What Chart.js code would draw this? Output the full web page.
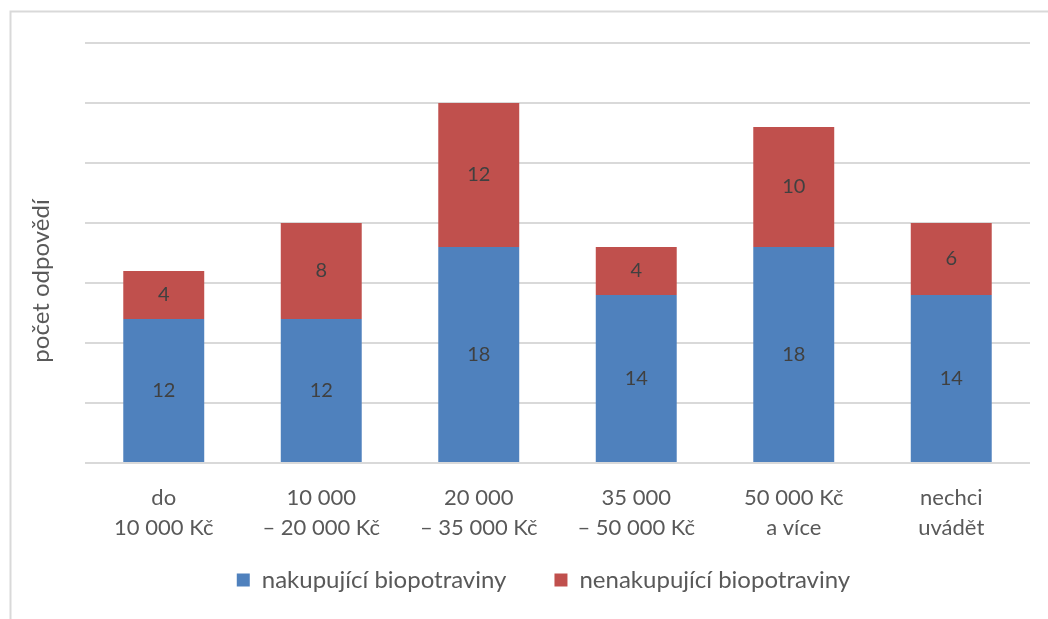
<!DOCTYPE html>
<html>
<head>
<meta charset="utf-8">
<script src="https://cdn.jsdelivr.net/npm/chart.js@4.4.1/dist/chart.umd.min.js"></script>
<style>
  html, body { margin: 0; padding: 0; background: #ffffff; }
  #wrap { position: relative; width: 1048px; height: 619px; }
</style>
</head>
<body>
<div id="wrap"><canvas id="c" width="1048" height="619"></canvas></div>
<script>
const categories = [
  ["do", "10 000 Kč"],
  ["10 000", "– 20 000 Kč"],
  ["20 000", "– 35 000 Kč"],
  ["35 000", "– 50 000 Kč"],
  ["50 000 Kč", "a více"],
  ["nechci", "uvádět"]
];
const buyers = [12, 12, 18, 14, 18, 14];
const nonBuyers = [4, 8, 12, 4, 10, 6];
const seriesNames = ["nakupující biopotraviny", "nenakupující biopotraviny"];
const yTitle = "počet odpovědí";

const FONT = "Lato, 'Open Sans', sans-serif";

const framePlugin = {
  id: 'frame',
  beforeDraw(chart) {
    const ctx = chart.ctx;
    ctx.save();
    ctx.fillStyle = '#ffffff';
    ctx.fillRect(0, 0, chart.width, chart.height);
    ctx.strokeStyle = '#d9d9d9';
    ctx.lineWidth = 2;
    ctx.strokeRect(10.5, 11.5, 1200, 1000);
    ctx.restore();
  }
};

const yTitlePlugin = {
  id: 'ytitle',
  afterDraw(chart) {
    const ctx = chart.ctx;
    ctx.save();
    ctx.translate(41, 281);
    ctx.rotate(-Math.PI / 2);
    ctx.font = "24px " + FONT;
    ctx.fillStyle = '#595959';
    ctx.textAlign = 'center';
    ctx.textBaseline = 'middle';
    ctx.fillText(yTitle, 0, 0);
    ctx.restore();
  }
};

const valueLabels = {
  id: 'valueLabels',
  afterDatasetsDraw(chart) {
    const ctx = chart.ctx;
    ctx.save();
    ctx.font = "20px " + FONT;
    ctx.fillStyle = '#404040';
    ctx.textAlign = 'center';
    ctx.textBaseline = 'middle';
    chart.data.datasets.forEach((ds, i) => {
      const meta = chart.getDatasetMeta(i);
      meta.data.forEach((el, j) => {
        const p = el.getCenterPoint();
        ctx.fillText(String(ds.data[j]), p.x, p.y);
      });
    });
    ctx.restore();
  }
};

const legendPatch = {
  id: 'legendPatch',
  afterInit(chart) {
    const lg = chart.legend;
    if (!lg) return;
    const origFit = lg.fit;
    lg.fit = function () { origFit.call(this); this.height = 66; };
    const origDraw = lg.draw;
    lg.draw = function (a) {
      const t = this.top, l = this.left;
      this.top = t - 33;
      this.left = l - 28;
      origDraw.call(this, a);
      this.top = t;
      this.left = l;
    };
  }
};

new Chart(document.getElementById('c'), {
  type: 'bar',
  data: {
    labels: categories,
    datasets: [
      { label: seriesNames[0], data: buyers, backgroundColor: '#4f81bd', barPercentage: 0.514, categoryPercentage: 1 },
      { label: seriesNames[1], data: nonBuyers, backgroundColor: '#c0504d', barPercentage: 0.514, categoryPercentage: 1 }
    ]
  },
  options: {
    responsive: false,
    animation: false,
    layout: { padding: { left: 85, right: 18, top: 43, bottom: 0 } },
    scales: {
      x: {
        stacked: true,
        grid: { display: false },
        border: { display: false },
        ticks: { color: '#595959', font: { family: FONT, size: 22, lineHeight: 1.364 }, padding: 12, maxRotation: 0, autoSkip: false },
        afterFit(s) { s.height = 90; }
      },
      y: {
        stacked: true,
        min: 0, max: 35,
        ticks: { display: false, stepSize: 5 },
        grid: { color: '#d9d9d9', lineWidth: 2, drawTicks: false },
        border: { display: false }
      }
    },
    plugins: {
      legend: {
        position: 'bottom',
        labels: { boxWidth: 13, boxHeight: 13, padding: 48, color: '#595959', font: { family: FONT, size: 24 } }
      },
      tooltip: { enabled: false }
    }
  },
  plugins: [framePlugin, yTitlePlugin, valueLabels, legendPatch]
});
</script>
</body>
</html>
